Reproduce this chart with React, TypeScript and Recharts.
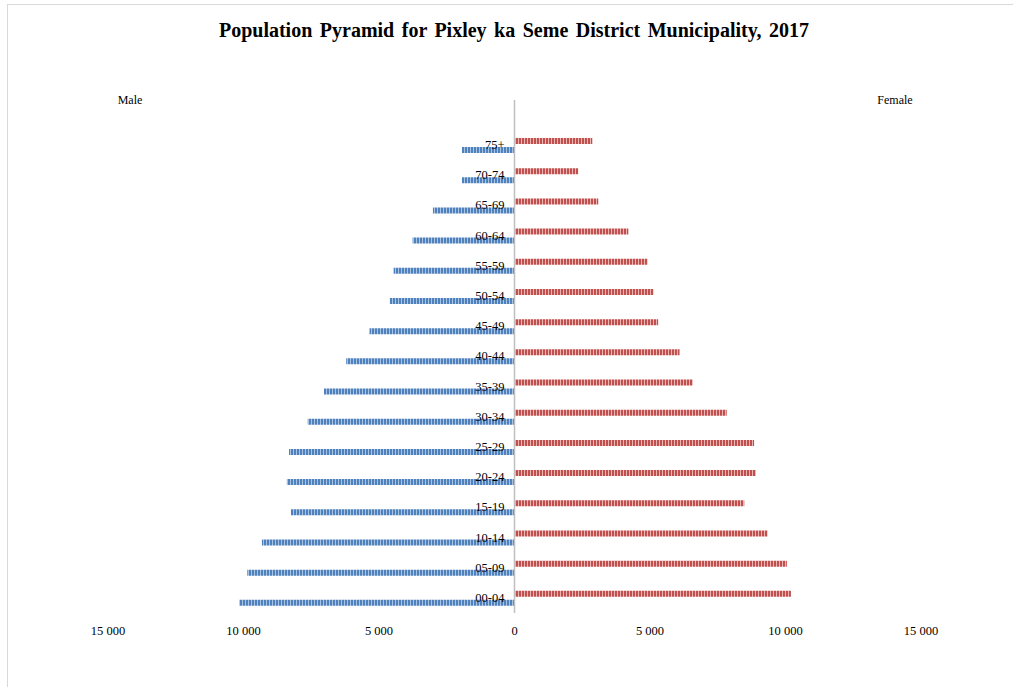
import React from "react";
import { BarChart, Bar, XAxis, YAxis, ReferenceLine } from "recharts";

const ageGroups = ["75+", "70-74", "65-69", "60-64", "55-59", "50-54", "45-49", "40-44", "35-39", "30-34", "25-29", "20-24", "15-19", "10-14", "05-09", "00-04"];
const maleValues = [1940, 1940, 3010, 3760, 4460, 4600, 5350, 6210, 7030, 7630, 8320, 8400, 8250, 9320, 9860, 10160];
const femaleValues = [2870, 2350, 3090, 4200, 4910, 5130, 5300, 6090, 6580, 7830, 8840, 8910, 8480, 9340, 10050, 10200];
const xTicks = [-15000, -10000, -5000, 0, 5000, 10000, 15000];

const TITLE = "Population Pyramid for Pixley ka Seme District Municipality, 2017";

const data = ageGroups.map((age, i) => ({ age, male: -maleValues[i], female: femaleValues[i] }));

const W = 1013;
const H = 687;
const Y_AXIS_W = 20;
const M = { top: 100, right: 92, left: 108 - Y_AXIS_W, bottom: 44 };
const PLOT_W = W - 108 - M.right;
const ZERO_X = 108 + PLOT_W / 2;
const FONT = "'Liberation Serif', 'Times New Roman', serif";

const fmt = (v: number) => String(Math.abs(v)).replace(/\B(?=(\d{3})+(?!\d))/g, " ");

const CatTick = (props: any) => {
  const { y, payload } = props;
  return (
    <text x={ZERO_X - 10} y={y} dy={4} textAnchor="end" fontFamily={FONT} fontSize={12.5} fill="#000">
      {payload.value}
    </text>
  );
};

const NumTick = (props: any) => {
  const { x, y, payload } = props;
  return (
    <text x={x} y={y} dy={14} textAnchor="middle" fontFamily={FONT} fontSize={12.5} fill="#000">
      {fmt(payload.value)}
    </text>
  );
};

export default function App() {
  return (
    <div style={{ position: "absolute", left: 0, top: 0, width: W, height: H, background: "#fff", overflow: "hidden" }}>
      <div style={{ position: "absolute", left: 7, top: 4, width: W, height: H, borderTop: "1px solid #D9D9D9", borderLeft: "1px solid #D9D9D9" }} />
      <div style={{ position: "absolute", left: 0, top: 0 }}>
        <BarChart width={W} height={H} data={data} layout="vertical" margin={M} barSize={6} barGap={3}>
          <defs>
            <pattern id="maleHatch" width="3" height="6" patternUnits="userSpaceOnUse">
              <rect x="0" y="0" width="3" height="6" fill="#4F81BD" />
              <rect x="2" y="0" width="1" height="6" fill="#A9C3E3" />
            </pattern>
            <pattern id="femaleHatch" width="3" height="6" patternUnits="userSpaceOnUse">
              <rect x="0" y="0" width="3" height="6" fill="#C0504D" />
              <rect x="2" y="0" width="1" height="6" fill="#EBB5B4" />
            </pattern>
          </defs>
          <text x={514} y={37} textAnchor="middle" fontFamily={FONT} fontWeight="bold" fontSize={20} wordSpacing={2.5} fill="#000">
            {TITLE}
          </text>
          <text x={130} y={104} textAnchor="middle" fontFamily={FONT} fontSize={12} fill="#000">Male</text>
          <text x={895} y={104} textAnchor="middle" fontFamily={FONT} fontSize={12} fill="#000">Female</text>
          <XAxis
            type="number"
            domain={[-15000, 15000]}
            ticks={xTicks}
            allowDataOverflow
            axisLine={false}
            tickLine={false}
            tick={<NumTick />}
            height={30}
            interval={0}
          />
          <YAxis
            type="category"
            dataKey="age"
            width={Y_AXIS_W}
            axisLine={false}
            tickLine={false}
            tick={<CatTick />}
            padding={{ top: 30, bottom: 0 }}
            interval={0}
          />
          <Bar dataKey="female" fill="url(#femaleHatch)" isAnimationActive={false} />
          <Bar dataKey="male" fill="url(#maleHatch)" isAnimationActive={false} />
          <ReferenceLine x={0} stroke="#BFBFBF" strokeWidth={1.5} />
        </BarChart>
      </div>
    </div>
  );
}
